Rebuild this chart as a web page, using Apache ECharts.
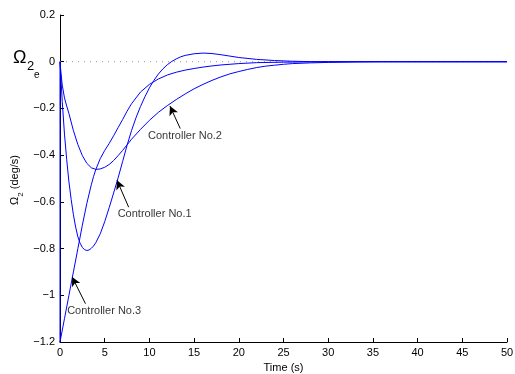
<!DOCTYPE html>
<html>
<head>
<meta charset="utf-8">
<script src="https://cdn.jsdelivr.net/npm/echarts@6/dist/echarts.min.js"></script>
<style>
html,body{margin:0;padding:0;background:#fff}
#chart{width:515px;height:374px}
</style>
</head>
<body>
<div id="chart"></div>
<script>
// Controller No.2 : shallow dip, slow return
var time2 = [0, 0.1, 0.25, 0.5, 0.75, 1, 1.5, 2, 2.5, 3, 3.5, 4, 4.5, 5, 5.5, 6, 6.5, 7, 7.5, 8, 9, 10, 11, 12, 13, 14, 15, 16, 17, 18, 19, 20, 21, 22, 23, 24, 25, 26, 28, 30, 33, 36, 50];
var ctrl2 = [0, -0.045, -0.10, -0.155, -0.19, -0.222, -0.295, -0.355, -0.402, -0.435, -0.454, -0.461, -0.459, -0.452, -0.44, -0.423, -0.402, -0.38, -0.356, -0.332, -0.29, -0.251, -0.217, -0.188, -0.162, -0.138, -0.116, -0.097, -0.08, -0.065, -0.052, -0.042, -0.033, -0.025, -0.019, -0.015, -0.011, -0.008, -0.005, -0.003, -0.001, 0, 0];

// Controller No.1 : deep dip with overshoot
var time1 = [0, 0.25, 0.5, 0.75, 1, 1.25, 1.5, 1.75, 2, 2.25, 2.5, 2.75, 3, 3.25, 3.5, 3.75, 4, 4.5, 5, 5.5, 6, 6.5, 7, 7.5, 8, 8.5, 9, 9.5, 10, 10.5, 11, 11.5, 12, 12.5, 13, 13.5, 14, 15, 16, 17, 18, 19, 20, 22, 24, 26, 28, 30, 50];
var ctrl1 = [0, -0.17, -0.31, -0.42, -0.515, -0.59, -0.655, -0.708, -0.75, -0.777, -0.795, -0.805, -0.808, -0.806, -0.799, -0.789, -0.775, -0.737, -0.685, -0.625, -0.562, -0.497, -0.428, -0.358, -0.295, -0.24, -0.192, -0.15, -0.112, -0.08, -0.053, -0.031, -0.013, 0.001, 0.012, 0.021, 0.027, 0.034, 0.037, 0.035, 0.03, 0.024, 0.018, 0.01, 0.005, 0.002, 0.0005, 0, 0];

// Controller No.3 : starts at -1.2
var time3 = [0, 0, 0.5, 1, 1.5, 2, 2.5, 3, 3.5, 3.75, 4, 4.5, 5, 5.5, 6, 6.5, 7, 7.5, 8, 9, 10, 11, 12, 13, 14, 15, 16, 17, 18, 20, 22, 25, 30, 50];
var ctrl3 = [0, -1.2, -1.10, -1.00, -0.90, -0.80, -0.70, -0.607, -0.527, -0.492, -0.462, -0.415, -0.38, -0.35, -0.317, -0.282, -0.248, -0.212, -0.18, -0.13, -0.097, -0.074, -0.057, -0.045, -0.036, -0.029, -0.023, -0.018, -0.014, -0.008, -0.004, -0.002, 0, 0];

var xTicks = [0, 5, 10, 15, 20, 25, 30, 35, 40, 45, 50];
var yTicks = [0.2, 0, -0.2, -0.4, -0.6, -0.8, -1, -1.2];

// annotation text anchors [t, y, text] and arrows [tailT, tailY, tipT, tipY]
var noteText = [[9.84, -0.316, 'Controller No.2'], [6.45, -0.651, 'Controller No.1'], [0.80, -1.069, 'Controller No.3']];
var noteArrows = [[13.45, -0.286, 12.3, -0.19], [7.68, -0.623, 6.38, -0.508], [2.85, -1.036, 1.36, -0.922]];

function zip(a, b) {
    return a.map(function (v, i) { return [v, b[i]]; });
}

var chart = echarts.init(document.getElementById('chart'));
var font = 'Liberation Sans, Arial, Helvetica, sans-serif';

var curveStyle = { color: '#0000ff', width: 1 };

chart.setOption({
    animation: false,
    backgroundColor: '#fff',
    grid: { left: 60, right: 8, top: 15, bottom: 32, containLabel: false, outerBoundsMode: 'none' },
    xAxis: {
        type: 'value',
        min: xTicks[0],
        max: xTicks[xTicks.length - 1],
        interval: 5,
        name: 'Time (s)',
        nameLocation: 'middle',
        nameGap: 19,
        nameTextStyle: { color: '#000', fontSize: 11, fontFamily: font },
        axisLine: { onZero: false, lineStyle: { color: '#000', width: 1 } },
        axisTick: { inside: true, length: 4, lineStyle: { color: '#000' } },
        axisLabel: { color: '#000', fontSize: 11, fontFamily: font, margin: 5 },
        splitLine: { show: false }
    },
    yAxis: {
        type: 'value',
        min: yTicks[yTicks.length - 1],
        max: yTicks[0],
        interval: 0.2,
        axisLine: { show: true, onZero: false, lineStyle: { color: '#000', width: 1 } },
        axisTick: { show: true, inside: true, length: 4, lineStyle: { color: '#000' } },
        axisLabel: {
            color: '#000', fontSize: 11, fontFamily: font, margin: 5,
            formatter: function (v) {
                var r = Math.round(v * 10) / 10;
                return String(r).replace('-', '\u2212');
            }
        },
        splitLine: { show: false }
    },
    graphic: [
        // y axis title, rotated
        {
            type: 'text', x: 17, y: 180, rotation: Math.PI / 2,
            style: {
                text: '{o|Ω}{s|2}{n| (deg/s)}',
                align: 'center', verticalAlign: 'middle',
                rich: {
                    o: { fontSize: 11, fontFamily: font, fill: '#000', verticalAlign: 'top', lineHeight: 16 },
                    s: { fontSize: 8, fontFamily: font, fill: '#000', verticalAlign: 'bottom', lineHeight: 16 },
                    n: { fontSize: 11, fontFamily: font, fill: '#000', verticalAlign: 'top', lineHeight: 16 }
                }
            }
        },
        { type: 'text', left: 13, top: 49, style: { text: 'Ω', fontSize: 18, fontFamily: font, fill: '#000' } },
        { type: 'text', left: 27, top: 60, style: { text: '2', fontSize: 13, fontFamily: font, fill: '#000' } },
        { type: 'text', left: 34, top: 70, style: { text: 'e', fontSize: 10, fontFamily: font, fill: '#000' } }
    ],
    series: [
        {
            name: 'ref',
            type: 'line',
            data: [[0, 0], [50, 0]],
            showSymbol: false,
            lineStyle: { color: '#999', width: 1, type: [1, 5] },
            z: 1
        },
        {
            name: 'Controller No.2', type: 'line', data: zip(time2, ctrl2),
            showSymbol: false, lineStyle: curveStyle, z: 3
        },
        {
            name: 'Controller No.1', type: 'line', data: zip(time1, ctrl1),
            showSymbol: false, lineStyle: curveStyle, z: 3
        },
        {
            name: 'Controller No.3', type: 'line', data: zip(time3, ctrl3),
            showSymbol: false, lineStyle: curveStyle, z: 3
        },
        {
            name: 'notes',
            type: 'scatter',
            symbolSize: 0,
            z: 5,
            data: noteText.map(function (n) { return { value: [n[0], n[1]], name: n[2] }; }),
            label: {
                show: true, position: 'right', distance: 0,
                formatter: '{b}', color: '#000', fontSize: 11, fontFamily: font
            },
            markLine: {
                silent: true,
                symbol: ['none', 'arrow'],
                symbolSize: [7, 9],
                label: { show: false },
                lineStyle: { color: '#000', width: 1, type: 'solid' },
                data: noteArrows.map(function (a) {
                    return [{ coord: [a[0], a[1]] }, { coord: [a[2], a[3]] }];
                })
            }
        }
    ]
});
</script>
</body>
</html>
